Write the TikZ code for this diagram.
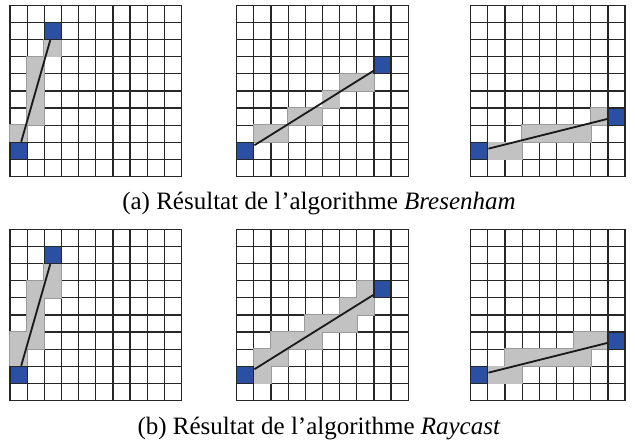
\documentclass[tikz,border=0pt]{standalone}
\usepackage{fontspec}
\setmainfont{Liberation Serif}
\usetikzlibrary{positioning}
\definecolor{cellblue}{HTML}{2B4FA3}
\definecolor{cellgray}{HTML}{C2C2C2}
\definecolor{edgegray}{HTML}{9A9A9A}
\definecolor{gridline}{HTML}{262626}

\begin{document}
\begin{tikzpicture}[x=1pt, y=1pt,
    gridbox/.style={draw=gridline, line width=1.25pt},
    hitcell/.style={fill=cellgray, draw=edgegray, line width=1.7pt},
    endcell/.style={fill=cellblue, draw=gridline, line width=1.25pt, inner sep=0pt, minimum size=17.15pt},
    ray/.style={line width=1.8pt, draw=black!90},
    caption/.style={font=\fontsize{25}{30}\selectfont, anchor=base, text=black}
]
\useasboundingbox (0,0) rectangle (635,447);

% (a) Bresenham, steep line
\begin{scope}[shift={(10,270.3)}, x=17.15pt, y=17.15pt]
  \foreach \i in {0,...,10} {
    \draw[gridbox] (\i,0) -- (\i,10);
    \draw[gridbox] (0,\i) -- (10,\i);
  }
  \foreach \c/\r in {0/2,1/3,1/4,1/5,1/6,2/7} \draw[hitcell] (\c,\r) rectangle +(1,1);
  \foreach \c/\r in {0/2,1/3,1/4,1/5,1/6,2/7} \fill[cellgray] (\c,\r) rectangle +(1,1);
  \node[endcell] (startA1) at (0.5,1.5) {};
  \node[endcell] (endA1) at (2.5,8.5) {};
  \draw[ray] (startA1) -- (endA1);
\end{scope}

% (a) Bresenham, medium slope
\begin{scope}[shift={(236.7,270.3)}, x=17.15pt, y=17.15pt]
  \foreach \i in {0,...,10} {
    \draw[gridbox] (\i,0) -- (\i,10);
    \draw[gridbox] (0,\i) -- (10,\i);
  }
  \foreach \c/\r in {1/2,2/2,3/3,4/3,5/4,6/5,7/5} \draw[hitcell] (\c,\r) rectangle +(1,1);
  \foreach \c/\r in {1/2,2/2,3/3,4/3,5/4,6/5,7/5} \fill[cellgray] (\c,\r) rectangle +(1,1);
  \node[endcell] (startA2) at (0.5,1.5) {};
  \node[endcell] (endA2) at (8.5,6.5) {};
  \draw[ray] (startA2) -- (endA2);
\end{scope}

% (a) Bresenham, flat line
\begin{scope}[shift={(470.7,270.3)}, x=17.15pt, y=17.15pt]
  \foreach \i in {0,...,9} \draw[gridbox] (\i,0) -- (\i,10);
  \foreach \i in {0,...,10} \draw[gridbox] (0,\i) -- (9,\i);
  \foreach \c/\r in {1/1,2/1,3/2,4/2,5/2,6/2,7/3} \draw[hitcell] (\c,\r) rectangle +(1,1);
  \foreach \c/\r in {1/1,2/1,3/2,4/2,5/2,6/2,7/3} \fill[cellgray] (\c,\r) rectangle +(1,1);
  \node[endcell] (startA3) at (0.5,1.5) {};
  \node[endcell] (endA3) at (8.5,3.5) {};
  \draw[ray] (startA3) -- (endA3);
\end{scope}

\node[caption] (capA) at (319,237) {(a) Résultat de l’algorithme \textit{Bresenham}};

% (b) Raycast, steep line
\begin{scope}[shift={(10,46.3)}, x=17.15pt, y=17.15pt]
  \foreach \i in {0,...,10} {
    \draw[gridbox] (\i,0) -- (\i,10);
    \draw[gridbox] (0,\i) -- (10,\i);
  }
  \foreach \c/\r in {0/2,0/3,1/3,1/4,1/5,1/6,2/6,2/7} \draw[hitcell] (\c,\r) rectangle +(1,1);
  \foreach \c/\r in {0/2,0/3,1/3,1/4,1/5,1/6,2/6,2/7} \fill[cellgray] (\c,\r) rectangle +(1,1);
  \node[endcell] (startB1) at (0.5,1.5) {};
  \node[endcell] (endB1) at (2.5,8.5) {};
  \draw[ray] (startB1) -- (endB1);
\end{scope}

% (b) Raycast, medium slope
\begin{scope}[shift={(236.7,46.3)}, x=17.15pt, y=17.15pt]
  \foreach \i in {0,...,10} {
    \draw[gridbox] (\i,0) -- (\i,10);
    \draw[gridbox] (0,\i) -- (10,\i);
  }
  \foreach \c/\r in {1/1,1/2,2/2,2/3,3/3,4/3,4/4,5/4,6/4,6/5,7/5,7/6} \draw[hitcell] (\c,\r) rectangle +(1,1);
  \foreach \c/\r in {1/1,1/2,2/2,2/3,3/3,4/3,4/4,5/4,6/4,6/5,7/5,7/6} \fill[cellgray] (\c,\r) rectangle +(1,1);
  \node[endcell] (startB2) at (0.5,1.5) {};
  \node[endcell] (endB2) at (8.5,6.5) {};
  \draw[ray] (startB2) -- (endB2);
\end{scope}

% (b) Raycast, flat line
\begin{scope}[shift={(470.7,46.3)}, x=17.15pt, y=17.15pt]
  \foreach \i in {0,...,9} \draw[gridbox] (\i,0) -- (\i,10);
  \foreach \i in {0,...,10} \draw[gridbox] (0,\i) -- (9,\i);
  \foreach \c/\r in {1/1,2/1,2/2,3/2,4/2,5/2,6/2,6/3,7/3} \draw[hitcell] (\c,\r) rectangle +(1,1);
  \foreach \c/\r in {1/1,2/1,2/2,3/2,4/2,5/2,6/2,6/3,7/3} \fill[cellgray] (\c,\r) rectangle +(1,1);
  \node[endcell] (startB3) at (0.5,1.5) {};
  \node[endcell] (endB3) at (8.5,3.5) {};
  \draw[ray] (startB3) -- (endB3);
\end{scope}

\node[caption] (capB) at (319,12) {(b) Résultat de l’algorithme \textit{Raycast}};
\end{tikzpicture}
\end{document}
